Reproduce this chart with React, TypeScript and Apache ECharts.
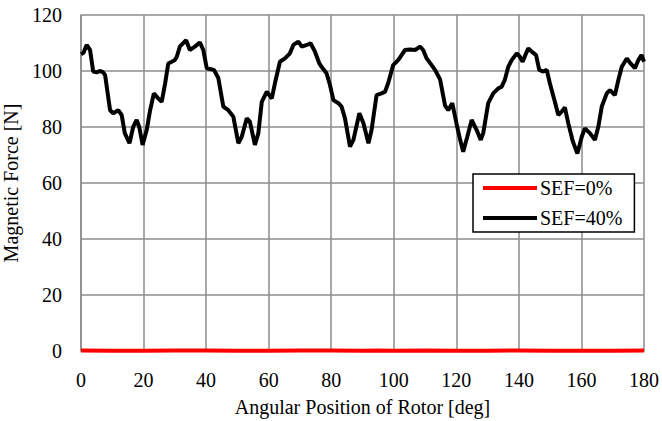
import React, { useEffect, useRef } from "react";
import * as echarts from "echarts";

const xTicks = [0, 20, 40, 60, 80, 100, 120, 140, 160, 180];
const yTicks = [0, 20, 40, 60, 80, 100, 120];

const seriesNames = ["SEF=0%", "SEF=40%"];

const angles0 = [0, 10, 20, 30, 40, 50, 60, 70, 80, 90, 95, 100, 110, 120, 130, 140, 150, 160, 170, 180];
const force0 = [0.2, 0.1, 0.1, 0.2, 0.2, 0.1, 0.1, 0.2, 0.2, 0.1, 0.2, 0.1, 0.2, 0.1, 0.1, 0.2, 0.1, 0.1, 0.1, 0.2];

const angles40 = [
  0, 0.8, 1.8, 2.9, 3.9, 5.0, 6.0, 7.0, 7.7, 9.3, 10.3, 11.9, 13.0, 14.0, 15.5, 16.7, 17.8, 18.6, 19.7,
  21.0, 22.1, 23.3, 24.7, 25.8, 26.9, 27.9, 29.0, 30.0, 30.6, 31.6, 33.6, 34.8, 36.4, 38.0, 39.1,
  40.2, 42.5, 43.9, 45.5, 47.1, 48.7, 50.3, 51.4, 53.0, 54.0, 55.6, 56.7, 57.8, 59.4, 61.0, 62.0,
  63.6, 65.2, 66.8, 67.9, 69.5, 70.6, 72.2, 73.4, 74.8, 76.2, 76.9, 78.5, 79.6, 80.7, 82.3, 83.3,
  84.4, 86.0, 87.1, 89.0, 90.3, 91.9, 92.9, 94.5, 96.1, 97.2, 98.2, 99.8, 101.4, 102.5, 103.6,
  105.2, 106.8, 108.4, 109.4, 110.5, 112.1, 113.2, 114.8, 116.4, 117.4, 118.7, 120.1, 121.2,
  122.2, 123.5, 124.9, 126.5, 127.8, 128.6, 130.2, 131.8, 133.4, 134.5, 135.5, 136.6, 137.7,
  139.3, 140.3, 141.2, 142.3, 143.0, 144.1, 145.5, 146.5, 147.8, 148.9, 149.9, 151.5, 152.6,
  153.7, 154.7, 155.8, 157.2, 158.7, 160.1, 161.1, 162.7, 164.3, 165.4, 166.5, 168.1, 169.1,
  170.7, 171.8, 172.9, 174.5, 175.7, 177.1, 178.2, 179.2, 180
];
const force40 = [
  106.0, 106.5, 109.3, 107.5, 99.8, 99.5, 100.0, 99.6, 98.6, 86.0, 84.9, 86.0, 84.3, 77.8, 74.2, 80.1, 82.5, 80.1, 73.6,
  78.9, 86.0, 92.0, 90.2, 89.0, 95.6, 102.7, 103.3, 103.9, 105.0, 108.7, 111.0, 107.5, 108.7, 110.2, 107.5,
  101.0, 100.4, 97.5, 87.3, 86.0, 83.7, 74.2, 76.5, 83.1, 81.9, 73.6, 77.8, 89.0, 92.6, 90.2, 95.6,
  103.3, 104.5, 106.3, 109.3, 110.5, 108.7, 109.3, 109.9, 106.9, 102.7, 101.5, 99.2, 95.0, 89.6, 88.5, 87.3,
  83.1, 73.0, 75.4, 84.9, 81.3, 74.2, 78.9, 91.4, 92.0, 92.6, 95.6, 102.1, 103.9, 105.7, 107.5,
  107.7, 107.5, 108.7, 107.5, 104.5, 102.1, 100.4, 97.0, 87.6, 86.0, 88.5, 81.0, 75.5,
  71.2, 76.5, 82.5, 78.9, 75.4, 77.8, 88.5, 92.0, 93.8, 94.4, 96.8, 101.5, 103.9,
  106.3, 105.1, 103.3, 106.3, 108.1, 106.9, 105.7, 100.4, 99.8, 100.4, 95.6, 89.0, 84.3,
  85.5, 87.0, 81.3, 75.0, 70.5, 76.5, 79.5, 77.8, 75.4, 80.1, 87.3, 92.0, 93.2,
  91.4, 96.8, 101.5, 104.5, 102.7, 101.0, 103.9, 105.7, 103.3
];

const FONT = "'Liberation Serif', 'Times New Roman', Times, serif";
const FS = 20;

export default function App() {
  const ref = useRef<HTMLDivElement>(null);
  useEffect(() => {
    if (!ref.current) return;
    const chart = echarts.init(ref.current, undefined, { renderer: "svg" });
    const gridColor = "#8c8c8c";
    chart.setOption({
      animation: false,
      backgroundColor: "#ffffff",
      textStyle: { fontFamily: FONT, color: "#000" },
      grid: { left: 81, right: 18, top: 15, bottom: 70, containLabel: false, outerBoundsMode: "none" },
      legend: {
        show: true,
        left: 473,
        top: 174,
        orient: "vertical",
        data: seriesNames,
        icon: "rect",
        itemWidth: 54,
        itemHeight: 4,
        itemGap: 10,
        padding: [4, 12, 4, 10],
        borderColor: "#000",
        borderWidth: 1.5,
        backgroundColor: "#fff",
        textStyle: { fontFamily: FONT, fontSize: FS, color: "#000", padding: [0, 0, 0, -2] },
      },
      xAxis: {
        type: "value",
        min: xTicks[0],
        max: xTicks[xTicks.length - 1],
        interval: 20,
        name: "Angular Position of Rotor [deg]",
        nameLocation: "middle",
        nameGap: 46,
        nameTextStyle: { fontFamily: FONT, fontSize: FS, color: "#000" },
        axisLine: { show: true, lineStyle: { color: gridColor, width: 1.5 } },
        axisTick: { show: false },
        axisLabel: { fontFamily: FONT, fontSize: FS, color: "#000", margin: 19 },
        splitLine: { show: true, lineStyle: { color: gridColor, width: 1.5 } },
      },
      yAxis: {
        type: "value",
        min: yTicks[0],
        max: yTicks[yTicks.length - 1],
        interval: 20,
        name: "Magnetic Force [N]",
        nameLocation: "middle",
        nameGap: 51,
        nameTextStyle: { fontFamily: FONT, fontSize: FS, color: "#000" },
        axisLine: { show: true, lineStyle: { color: gridColor, width: 1.5 } },
        axisTick: { show: false },
        axisLabel: { fontFamily: FONT, fontSize: FS, color: "#000", margin: 19 },
        splitLine: { show: true, lineStyle: { color: gridColor, width: 1.5 } },
      },
      series: [
        {
          name: seriesNames[0],
          type: "line",
          data: angles0.map((a, i) => [a, force0[i]]),
          showSymbol: false,
          symbol: "none",
          color: "#ff0000",
          lineStyle: { color: "#ff0000", width: 4 },
          z: 3,
        },
        {
          name: seriesNames[1],
          type: "line",
          data: angles40.map((a, i) => [a, force40[i]]),
          showSymbol: false,
          symbol: "none",
          color: "#000000",
          lineStyle: { color: "#000000", width: 4 },
          z: 2,
        },
      ],
    });
    return () => chart.dispose();
  }, []);
  return <div ref={ref} style={{ width: 662, height: 421, position: "absolute", left: 0, top: 0 }} />;
}
